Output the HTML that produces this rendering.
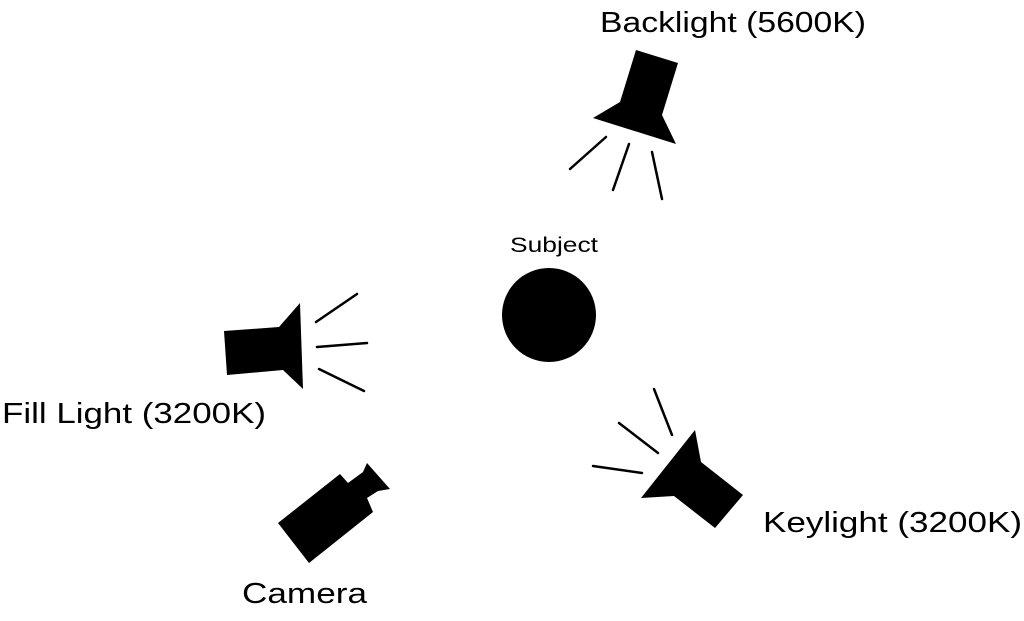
<!DOCTYPE html>
<html><head><style>
html,body{margin:0;padding:0;background:#fff;}
svg{display:block;}
text{font-family:"Liberation Sans",sans-serif;fill:#000;}
</style></head><body>
<svg width="1024" height="621" viewBox="0 0 1024 621">
<g stroke="#000" stroke-width="2.5" stroke-linecap="round">
<line x1="606" y1="137" x2="570" y2="169"/>
<line x1="629" y1="144" x2="613" y2="190"/>
<line x1="652" y1="152" x2="662" y2="199"/>
<line x1="654" y1="389" x2="672" y2="435"/>
<line x1="619" y1="423" x2="658" y2="453"/>
<line x1="593" y1="466" x2="642" y2="473"/>
<line x1="316" y1="322" x2="357" y2="294"/>
<line x1="317" y1="347" x2="367" y2="343"/>
<line x1="319" y1="369" x2="364" y2="391"/>
</g>
<polygon points="636,50 678,63 662,115 676,144 593,118 620,102" fill="#000"/>
<polygon points="695,430 701,462 743,495 715,528 674,496 641,498" fill="#000"/>
<polygon points="224,331 279,327 300,303 303,389 283,370 227,375" fill="#000"/>
<polygon points="278,523 340,474 348,483 363,472 367,463 390,489 378,491 367,498 373,512 309,563" fill="#000"/>
<circle cx="549" cy="315" r="47" fill="#000"/>
<text x="510" y="252" font-size="21" textLength="88" lengthAdjust="spacingAndGlyphs">Subject</text>
<text x="600" y="32" font-size="29" textLength="266" lengthAdjust="spacingAndGlyphs">Backlight (5600K)</text>
<text x="2" y="423" font-size="29" textLength="264" lengthAdjust="spacingAndGlyphs">Fill Light (3200K)</text>
<text x="763" y="532" font-size="29" textLength="259" lengthAdjust="spacingAndGlyphs">Keylight (3200K)</text>
<text x="242" y="603" font-size="29" textLength="125" lengthAdjust="spacingAndGlyphs">Camera</text>
</svg>
</body></html>
